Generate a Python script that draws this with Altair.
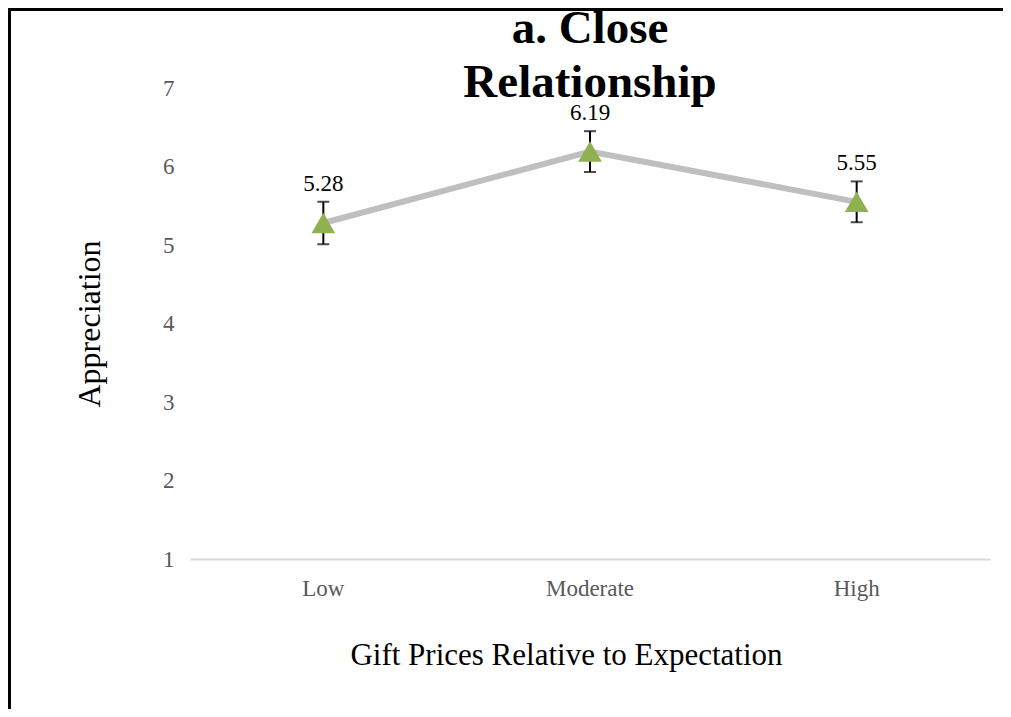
import altair as alt
import pandas as pd

categories = ["Low", "Moderate", "High"]
means = [5.28, 6.19, 5.55]
errors = [0.27, 0.26, 0.26]
labels = ["5.28", "6.19", "5.55"]
y_ticks = [1, 2, 3, 4, 5, 6, 7]
title_lines = ["a. Close", "Relationship"]

df = pd.DataFrame({"cat": categories, "mean": means, "err": errors, "label": labels})
df["lo"] = df["mean"] - df["err"]
df["hi"] = df["mean"] + df["err"]

FONT = "Liberation Serif"
W, H = 800, 471
PL, PT, PR, PB = 182, 80, 13, 150

x = alt.X("cat:N", sort=categories,
          scale=alt.Scale(paddingInner=0, paddingOuter=0, domain=categories),
          axis=alt.Axis(title="Gift Prices Relative to Expectation", labelAngle=0,
                        ticks=False, domainColor="#d9d9d9", domainWidth=2,
                        labelFont=FONT, labelFontSize=23, labelColor="#595959",
                        labelPadding=18, titleFont=FONT, titleFontSize=31,
                        titleFontWeight="normal", titleColor="#000000",
                        titlePadding=40, titleX=376))
yscale = alt.Scale(domain=[1, 7], nice=False, zero=False)
y_axis = alt.Axis(title="Appreciation", values=y_ticks, format="d", grid=False, domain=False,
                  ticks=False, labelFont=FONT, labelFontSize=23, labelColor="#595959",
                  labelPadding=16, titleFont=FONT, titleFontSize=32,
                  titleFontWeight="normal", titleColor="#000000", titlePadding=56)

base = alt.Chart(df)

line = base.mark_line(color="#bfbfbf", strokeWidth=6).encode(
    x=x, y=alt.Y("mean:Q", scale=yscale, axis=y_axis))
rule = base.mark_rule(color="#000000", strokeWidth=2).encode(
    x=alt.X("cat:N", sort=categories), y=alt.Y("lo:Q", scale=yscale), y2="hi:Q")
cap_hi = base.mark_tick(color="#000000", thickness=2, size=12, orient="horizontal").encode(
    x=alt.X("cat:N", sort=categories), y=alt.Y("hi:Q", scale=yscale))
cap_lo = base.mark_tick(color="#000000", thickness=2, size=12, orient="horizontal").encode(
    x=alt.X("cat:N", sort=categories), y=alt.Y("lo:Q", scale=yscale))
pts = base.mark_point(shape="triangle-up", filled=True, opacity=1, size=560,
                      color="#8fb14f").encode(
    x=alt.X("cat:N", sort=categories), y=alt.Y("mean:Q", scale=yscale))
txt = base.mark_text(font=FONT, fontSize=23, color="#000000", baseline="bottom",
                     dy=-6).encode(
    x=alt.X("cat:N", sort=categories), y=alt.Y("hi:Q", scale=yscale), text="label:N")

one = alt.Data(values=[{"a": 1}])
border_left = alt.Chart(one).mark_rule(color="#000000", strokeWidth=3).encode(
    x=alt.value(-PL + 1.5), y=alt.value(-PT + 0), y2=alt.value(H + PB))
border_top = alt.Chart(one).mark_rule(color="#000000", strokeWidth=3).encode(
    x=alt.value(-PL), x2=alt.value(W + PR), y=alt.value(-PT + 1.5))

chart = alt.layer(line, rule, cap_hi, cap_lo, pts, txt, border_left, border_top).properties(
    width=W, height=H,
    autosize=alt.AutoSizeParams(type="none"),
    padding={"left": PL, "top": PT, "right": PR, "bottom": PB},
    title=alt.TitleParams(text=title_lines, font=FONT, fontSize=47, fontWeight="bold",
                          color="#000000", anchor="middle", lineHeight=54, offset=-100),
).configure_view(stroke=None)

chart.save("out.html", embed_options={"renderer": "svg", "actions": False})
